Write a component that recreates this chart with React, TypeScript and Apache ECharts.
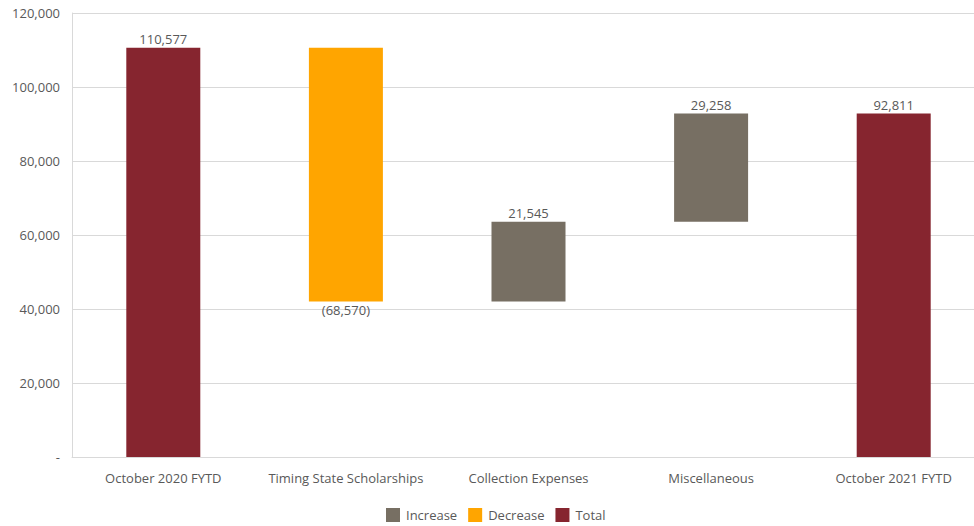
import React, { useEffect, useRef } from "react";
import * as echarts from "echarts";

const categories = [
  "October 2020 FYTD",
  "Timing State Scholarships",
  "Collection Expenses",
  "Miscellaneous",
  "October 2021 FYTD",
];
// signed change for each step; totals marked separately
const startTotal = 110577;
const deltas = [-68570, 21545, 29258];
const endTotal = 92811;
const yTicks = [0, 20000, 40000, 60000, 80000, 100000, 120000];

const COLORS = { inc: "#776F63", dec: "#FFA500", total: "#86252F" };
const TEXT = "#595959";
const FONT = "'Open Sans', 'Noto Sans', sans-serif";

function buildSeries() {
  const base: (number | string)[] = ["-"];
  const inc: (number | string)[] = ["-"];
  const dec: (number | string)[] = ["-"];
  const tot: (number | string)[] = [startTotal];
  let running = startTotal;
  deltas.forEach((d) => {
    if (d >= 0) {
      base.push(running);
      inc.push(d);
      dec.push("-");
      running += d;
    } else {
      running += d;
      base.push(running);
      dec.push(-d);
      inc.push("-");
    }
    tot.push("-");
  });
  base.push("-");
  inc.push("-");
  dec.push("-");
  tot.push(endTotal);
  return { base, inc, dec, tot };
}

const fmt = (v: number) => v.toLocaleString("en-US");

export default function App() {
  const ref = useRef<HTMLDivElement>(null);
  useEffect(() => {
    if (!ref.current) return;
    const chart = echarts.init(ref.current, undefined, { renderer: "svg" });
    const { base, inc, dec, tot } = buildSeries();
    const labelStyle = { color: TEXT, fontSize: 13, fontFamily: FONT, distance: 2 };
    chart.setOption({
      animation: false,
      textStyle: { fontFamily: FONT },
      grid: { left: 72, width: 913, top: 13, bottom: 69, containLabel: false },
      legend: {
        bottom: 4,
        left: 386,
        padding: 0,
        icon: "rect",
        itemWidth: 14,
        itemHeight: 14,
        itemGap: 11,
        textStyle: { color: TEXT, fontSize: 13, fontFamily: FONT, padding: [0, 0, 0, 1] },
        data: ["Increase", "Decrease", "Total"],
      },
      xAxis: {
        type: "category",
        data: categories,
        axisLine: { lineStyle: { color: "#D9D9D9" } },
        axisTick: { show: false },
        axisLabel: { color: TEXT, fontSize: 13, fontFamily: FONT, margin: 14, interval: 0 },
      },
      yAxis: {
        type: "value",
        min: yTicks[0],
        max: yTicks[yTicks.length - 1],
        interval: 20000,
        axisLine: { show: true, lineStyle: { color: "#D9D9D9" } },
        axisTick: { show: false },
        splitLine: { lineStyle: { color: "#D9D9D9" } },
        axisLabel: {
          color: TEXT,
          fontSize: 13,
          fontFamily: FONT,
          margin: 12,
          formatter: (v: number) => (v === 0 ? "-" : fmt(v)),
        },
      },
      series: [
        {
          name: "base",
          type: "bar",
          stack: "w",
          data: base,
          barWidth: 74,
          itemStyle: { color: "transparent" },
          emphasis: { disabled: true },
          silent: true,
        },
        {
          name: "Increase",
          type: "bar",
          stack: "w",
          data: inc,
          barWidth: 74,
          itemStyle: { color: COLORS.inc },
          label: { show: true, position: "top", ...labelStyle, formatter: (p: any) => fmt(p.value) },
        },
        {
          name: "Decrease",
          type: "bar",
          stack: "w",
          data: dec,
          barWidth: 74,
          itemStyle: { color: COLORS.dec },
          label: { show: true, position: "bottom", ...labelStyle, formatter: (p: any) => "(" + fmt(p.value) + ")" },
        },
        {
          name: "Total",
          type: "bar",
          stack: "w",
          data: tot,
          barWidth: 74,
          itemStyle: { color: COLORS.total },
          label: { show: true, position: "top", ...labelStyle, formatter: (p: any) => fmt(p.value) },
        },
      ],
    });
    return () => chart.dispose();
  }, []);
  return (
    <div style={{ position: "absolute", left: 0, top: 0, width: 974, height: 526, overflow: "hidden" }}>
      <div ref={ref} style={{ width: 1000, height: 526 }} />
    </div>
  );
}
